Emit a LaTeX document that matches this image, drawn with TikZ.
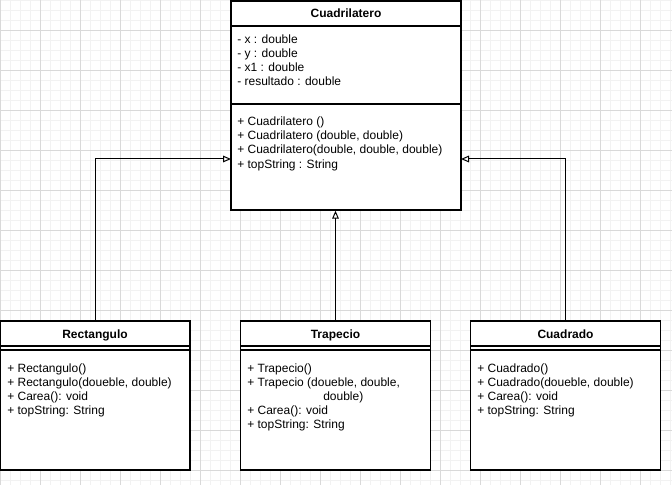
\documentclass[tikz,border=0pt]{standalone}
\usepackage{fontspec}
\setmainfont{Liberation Sans}
\usetikzlibrary{arrows.meta}

\tikzset{
    classbox/.style={draw, fill=white, line width=1pt, inner sep=0pt},
    title/.style={font=\fontsize{9}{11}\selectfont\bfseries, anchor=base, inner sep=0pt},
    member/.style={font=\fontsize{9}{11}\selectfont, anchor=base west, inner sep=0pt},
    inherit/.style={-{Triangle[open, length=6pt, width=5pt]}, line width=0.75pt}
}

\begin{document}
\begin{tikzpicture}[x=0.75pt, y=-0.75pt]
    \useasboundingbox (0, 0) rectangle (672, 485);

    % grid
    \foreach \x in {0, 10, ..., 670} {
        \draw [black!5, line width=0.5pt] (\x, 0) -- (\x, 485);
    }
    \foreach \y in {0, 10, ..., 480} {
        \draw [black!5, line width=0.5pt] (0, \y) -- (672, \y);
    }
    \foreach \x in {0, 40, ..., 640} {
        \draw [black!15, line width=0.5pt] (\x, 0) -- (\x, 485);
    }
    \foreach \y in {30, 70, ..., 470} {
        \draw [black!15, line width=0.5pt] (0, \y) -- (672, \y);
    }

    % Cuadrilatero
    \node (cuadri) at (346, 105.5) [classbox, minimum width=172.5pt, minimum height=156.75pt] {};
    \draw [line width=1pt] (231, 26) -- (461, 26);
    \draw [line width=1pt] (231, 104) -- (461, 104);
    \node at (346, 18) [title] {Cuadrilatero};
    \foreach \i/\txt in {0/- x : double, 1/- y : double, 2/- x1 : double, 3/- resultado : double} {
        \node at (237, 44 + 13.7*\i) [member] {\txt};
    }
    \foreach \i/\txt in {0/+ Cuadrilatero (), 1/{+ Cuadrilatero (double, double)},
                         2/{+ Cuadrilatero(double, double, double)}, 3/+ topString : String} {
        \node at (237, 126 + 14*\i) [member] {\txt};
    }
    \coordinate (cuadriL) at (231, 159);
    \coordinate (cuadriR) at (461, 159);

    % subclasses
    \foreach \name/\cx/\label in {rect/95/Rectangulo, trap/335.5/Trapecio, cuad/565.5/Cuadrado} {
        \node (\name) at (\cx, 395.5) [classbox, minimum width=142.5pt, minimum height=111.75pt] {};
        \draw [line width=1pt] (\cx - 95, 346) -- (\cx + 95, 346);
        \draw [line width=1pt] (\cx - 95, 350) -- (\cx + 95, 350);
        \node at (\cx, 338) [title] {\label};
    }

    % Rectangulo
    \foreach \i/\txt in {0/+ Rectangulo(), 1/{+ Rectangulo(doueble, double)},
                         2/+ Carea(): void, 3/+ topString: String} {
        \node at (7, 372 + 14*\i) [member] {\txt};
    }

    % Trapecio
    \foreach \i/\txt in {0/+ Trapecio(), 1/{+ Trapecio (doueble, double,},
                         3/+ Carea(): void, 4/+ topString: String} {
        \node at (247, 372 + 14*\i) [member] {\txt};
    }
    \node at (323, 400) [member] {double)};

    % Cuadrado
    \foreach \i/\txt in {0/+ Cuadrado(), 1/{+ Cuadrado(doueble, double)},
                         2/+ Carea(): void, 3/+ topString: String} {
        \node at (477, 372 + 14*\i) [member] {\txt};
    }

    % herencia
    \draw [inherit] (rect.north) |- (cuadriL);
    \draw [inherit] (trap.north) -- (trap.north |- cuadri.south);
    \draw [inherit] (cuad.north) |- (cuadriR);
\end{tikzpicture}
\end{document}
